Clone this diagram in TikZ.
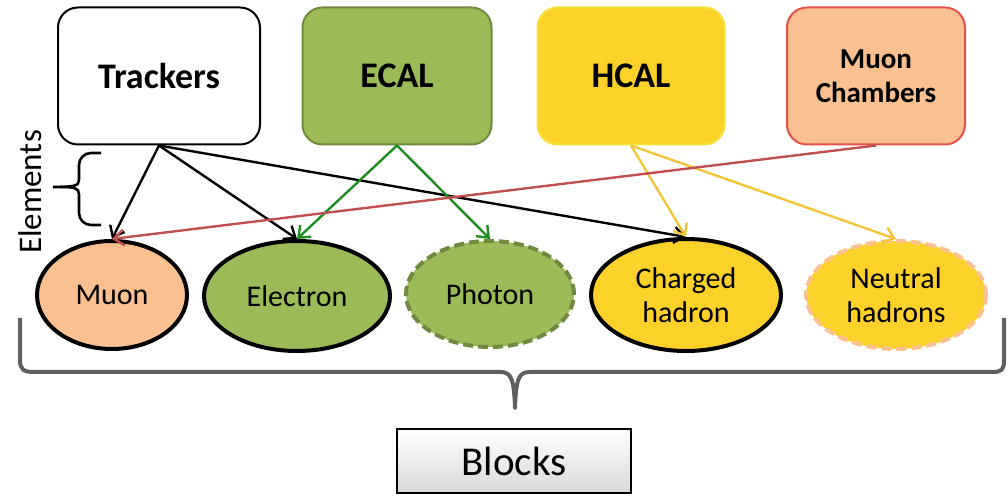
\documentclass[tikz,border=0pt]{standalone}
\usepackage{fontspec}
\setmainfont{Carlito}
\usepackage{tikz}
\usetikzlibrary{arrows.meta, shapes.geometric}

\definecolor{ecalgreen}{HTML}{9BBB59}
\definecolor{ecaledge}{HTML}{71893F}
\definecolor{hcalyellow}{HTML}{FCD12A}
\definecolor{hcaledge}{HTML}{F6E13A}
\definecolor{muonpeach}{HTML}{FAC090}
\definecolor{muonred}{HTML}{E8504C}
\definecolor{arrgreen}{HTML}{1E8C1E}
\definecolor{arryellow}{HTML}{F2C43A}
\definecolor{arrred}{HTML}{C0504D}
\definecolor{bracegray}{HTML}{5F5F5F}

\tikzset{
    detbox/.style={draw, line width=1pt, rounded corners=10pt, minimum height=68.5pt,
        font=\fontsize{18}{20}\selectfont\bfseries, align=center},
    partell/.style={ellipse, draw, line width=2pt, inner sep=0pt,
        font=\fontsize{15}{17}\selectfont, align=center},
    link/.style={line width=1.2pt, -{Straight Barb[length=5pt,width=8pt]}}
}

\begin{document}
\begin{tikzpicture}[x=0.5pt, y=-0.5pt]
    \useasboundingbox (0,0) rectangle (1008,496);

    % --- 1. 偵測器 (上排方框) ---
    \node[detbox, minimum width=101pt] (trk) at (159,76) {Trackers};
    \node[detbox, minimum width=94.5pt, fill=ecalgreen, draw=ecaledge] (ecal) at (397,76) {ECAL};
    \node[detbox, minimum width=93.5pt, fill=hcalyellow, draw=hcaledge] (hcal) at (631,76) {HCAL};
    \node[detbox, minimum width=89pt, fill=muonpeach, draw=muonred,
        font=\fontsize{14.5}{17}\selectfont\bfseries] (mch) at (876,76) {Muon\\Chambers};

    % --- 2. 粒子 (下排橢圓) ---
    \node[partell, minimum width=75pt, minimum height=54pt, fill=muonpeach] (muon) at (112,295) {Muon};
    \node[partell, minimum width=93pt, minimum height=55pt, fill=ecalgreen] (elec) at (297,296) {Electron};
    \node[partell, minimum width=84pt, minimum height=53pt, fill=ecalgreen, draw=ecaledge,
        dash pattern=on 5pt off 2.5pt] (phot) at (490,294) {Photon};
    \node[partell, minimum width=95pt, minimum height=56pt, fill=hcalyellow] (chad) at (686,295) {Charged\\hadron};
    \node[partell, minimum width=90pt, minimum height=54pt, fill=hcalyellow, draw=muonpeach,
        dash pattern=on 5pt off 2.5pt] (nhad) at (896,295) {Neutral\\hadrons};

    % --- 3. 連線 ---
    \draw[link] (trk.south) -- (muon.north);
    \draw[link] (trk.south) -- (elec.north);
    \draw[link] (trk.south) -- (chad.north);
    \draw[link, arrgreen] (ecal.south) -- (elec.north);
    \draw[link, arrgreen] (ecal.south) -- (phot.north);
    \draw[link, arryellow] (hcal.south) -- (chad.north);
    \draw[link, arryellow] (hcal.south) -- (nhad.north);
    \draw[link, arrred] (mch.south) -- (muon.north);

    % --- 4. 括號與標籤 ---
    \draw[line width=1.3pt, rounded corners=6pt]
        (101,153) -- (79,153) -- (79,180);
    \draw[line width=1.3pt, rounded corners=6pt]
        (101,225) -- (79,225) -- (79,194);
    \draw[line width=1.3pt]
        (79,180) .. controls (79,186) and (74,187) .. (53,187);
    \draw[line width=1.3pt]
        (79,194) .. controls (79,188) and (74,187) .. (60,187);
    \node[rotate=90, font=\fontsize{16.5}{18}\selectfont] (elem) at (30,192) {Elements};

    \draw[bracegray, line width=2pt, line join=round]
        (20,318) -- (20,360) .. controls (20,370) and (24,372) .. (34,372)
        -- (500,372) .. controls (511,372) and (514,378) .. (515,408)
        .. controls (516,378) and (519,372) .. (530,372)
        -- (992,372) .. controls (1002,372) and (1004,370) .. (1004,360) -- (1004,318);

    \node[draw, line width=1pt, minimum width=117pt, minimum height=32pt,
        top color=white, bottom color=black!15, font=\fontsize{20.5}{22}\selectfont] (blk) at (514,461) {Blocks};
\end{tikzpicture}
\end{document}
